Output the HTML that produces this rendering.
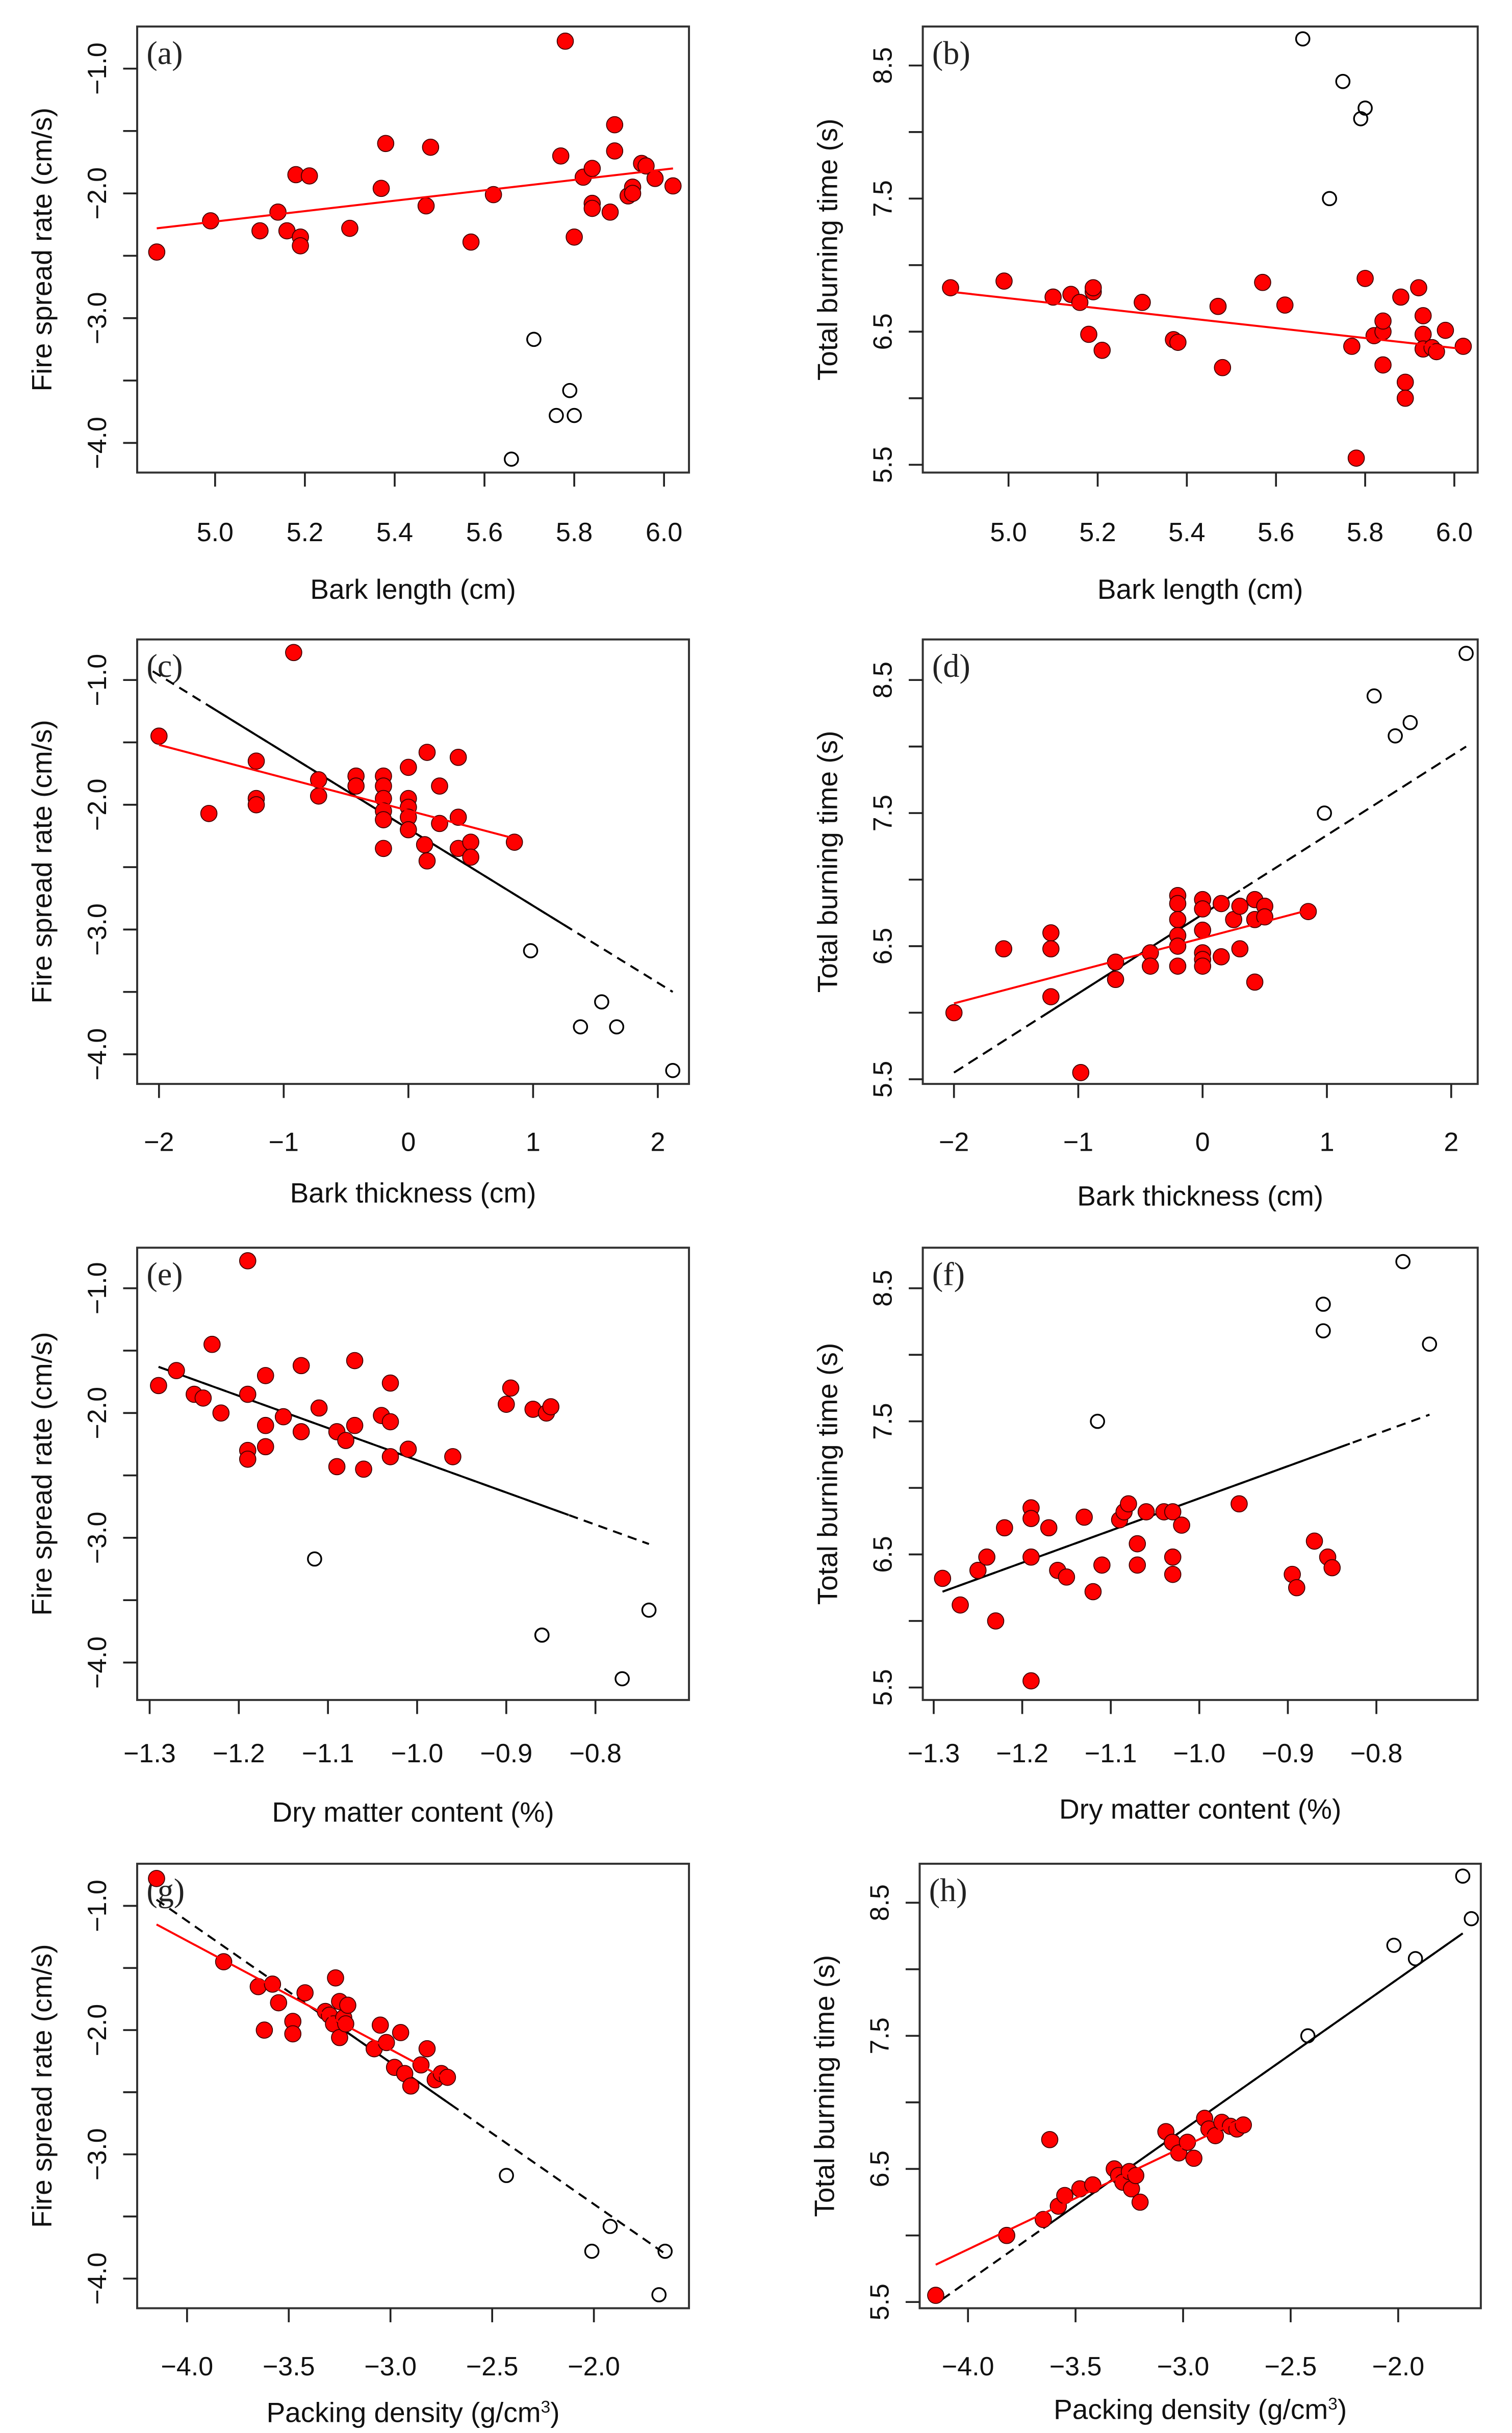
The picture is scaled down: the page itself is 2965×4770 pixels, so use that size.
<!DOCTYPE html>
<html><head><meta charset="utf-8"><style>
html,body{margin:0;padding:0;background:#fff;}
svg{display:block;}
</style></head><body>
<svg id="fig" xmlns="http://www.w3.org/2000/svg" width="2965" height="4770" viewBox="0 0 970 1560" preserveAspectRatio="none"></svg>
<script>
// ---- data: bark length ----
const aX=[4.87,4.99,5.10,5.14,5.16,5.18,5.19,5.19,5.21,5.30,5.37,5.38,5.47,5.48,5.57,5.62,5.77,5.78,5.80,5.82,5.84,5.84,5.84,5.88,5.89,5.89,5.92,5.93,5.93,5.95,5.96,5.98,6.02];
const aY=[-2.47,-2.22,-2.30,-2.15,-2.30,-1.85,-2.35,-2.42,-1.86,-2.28,-1.96,-1.60,-2.10,-1.63,-2.39,-2.01,-1.70,-0.78,-2.35,-1.87,-1.80,-2.08,-2.12,-2.15,-1.45,-1.66,-2.02,-1.95,-2.00,-1.76,-1.78,-1.88,-1.94];
const aOX=[5.71,5.79,5.76,5.80,5.66];
const aOY=[-3.17,-3.58,-3.78,-3.78,-4.13];
const bX=[4.87,4.99,5.10,5.14,5.16,5.18,5.19,5.19,5.21,5.30,5.37,5.38,5.47,5.48,5.57,5.62,5.77,5.78,5.80,5.82,5.84,5.84,5.84,5.88,5.89,5.89,5.92,5.93,5.93,5.93,5.95,5.96,5.98,6.02];
const bY=[6.83,6.88,6.76,6.78,6.72,6.48,6.80,6.83,6.36,6.72,6.44,6.42,6.69,6.23,6.87,6.70,6.39,5.55,6.90,6.47,6.50,6.58,6.25,6.76,6.12,6.00,6.83,6.62,6.48,6.37,6.38,6.35,6.51,6.39];
const bOX=[5.66,5.75,5.79,5.80,5.72];
const bOY=[8.70,8.38,8.10,8.18,7.50];
// ---- data: bark thickness ----
const cX=[-2.0,-1.6,-1.22,-1.22,-1.22,-0.92,-0.72,-0.72,-0.42,-0.42,-0.2,-0.2,-0.2,-0.2,-0.2,-0.2,0,0,0,0,0,0.13,0.15,0.15,0.25,0.25,0.4,0.4,0.4,0.5,0.5,0.85];
const cY=[-1.45,-2.07,-1.65,-1.95,-2.00,-0.78,-1.80,-1.93,-1.77,-1.85,-1.77,-1.85,-1.95,-2.05,-2.12,-2.35,-1.70,-1.95,-2.02,-2.10,-2.20,-2.32,-1.58,-2.45,-1.85,-2.15,-1.62,-2.10,-2.35,-2.30,-2.42,-2.30];
const cOX=[0.98,1.55,1.38,1.67,2.12];
const cOY=[-3.17,-3.58,-3.78,-3.78,-4.13];
const dX=[-2.0,-1.6,-1.22,-1.22,-1.22,-0.98,-0.7,-0.7,-0.42,-0.42,-0.2,-0.2,-0.2,-0.2,-0.2,-0.2,0,0,0,0,0,0,0.15,0.15,0.25,0.3,0.3,0.42,0.42,0.42,0.5,0.5,0.85];
const dY=[6.0,6.48,6.60,6.48,6.12,5.55,6.38,6.25,6.45,6.35,6.88,6.82,6.70,6.58,6.50,6.35,6.85,6.78,6.62,6.45,6.40,6.35,6.82,6.42,6.70,6.80,6.48,6.85,6.70,6.23,6.80,6.72,6.76];
const dOX=[0.98,1.38,1.55,1.67,2.12];
const dOY=[7.50,8.38,8.08,8.18,8.70];
// ---- data: dry matter content ----
const eX=[-1.29,-1.27,-1.25,-1.24,-1.23,-1.22,-1.19,-1.19,-1.19,-1.19,-1.17,-1.17,-1.17,-1.15,-1.13,-1.13,-1.11,-1.09,-1.09,-1.08,-1.07,-1.07,-1.06,-1.04,-1.03,-1.03,-1.03,-1.01,-0.96,-0.90,-0.895,-0.87,-0.855,-0.85];
const eY=[-1.78,-1.66,-1.85,-1.88,-1.45,-2.00,-0.78,-1.85,-2.30,-2.37,-1.70,-2.10,-2.27,-2.03,-1.62,-2.15,-1.96,-2.15,-2.43,-2.22,-1.58,-2.10,-2.45,-2.02,-2.35,-1.76,-2.07,-2.29,-2.35,-1.93,-1.80,-1.97,-2.00,-1.95];
const eOX=[-1.115,-0.86,-0.86,-0.77,-0.74];
const eOY=[-3.17,-3.78,-3.78,-4.13,-3.58];
const fX=[-1.29,-1.27,-1.25,-1.24,-1.23,-1.22,-1.19,-1.19,-1.19,-1.19,-1.17,-1.16,-1.15,-1.13,-1.12,-1.11,-1.09,-1.085,-1.08,-1.07,-1.07,-1.06,-1.04,-1.03,-1.03,-1.03,-1.02,-0.955,-0.895,-0.89,-0.87,-0.855,-0.85];
const fY=[6.32,6.12,6.38,6.48,6.00,6.70,6.48,6.85,6.77,5.55,6.70,6.38,6.33,6.78,6.22,6.42,6.76,6.82,6.88,6.42,6.58,6.82,6.82,6.82,6.48,6.35,6.72,6.88,6.35,6.25,6.60,6.48,6.40];
const fOX=[-1.115,-0.86,-0.86,-0.77,-0.74];
const fOY=[7.50,8.38,8.18,8.70,8.08];
// ---- data: packing density ----
const gX=[-4.15,-3.82,-3.65,-3.62,-3.58,-3.55,-3.48,-3.48,-3.42,-3.32,-3.30,-3.28,-3.27,-3.25,-3.25,-3.23,-3.22,-3.21,-3.08,-3.05,-3.02,-2.98,-2.95,-2.93,-2.90,-2.85,-2.82,-2.78,-2.75,-2.72];
const gY=[-0.78,-1.45,-1.65,-2.00,-1.63,-1.78,-1.93,-2.03,-1.70,-1.85,-1.88,-1.95,-1.58,-1.77,-2.06,-1.90,-1.95,-1.80,-2.15,-1.96,-2.10,-2.30,-2.02,-2.35,-2.45,-2.28,-2.15,-2.40,-2.35,-2.38];
const gOX=[-2.43,-1.92,-2.01,-1.65,-1.68];
const gOY=[-3.17,-3.58,-3.78,-3.78,-4.13];
const hX=[-4.15,-3.82,-3.65,-3.58,-3.55,-3.62,-3.48,-3.42,-3.32,-3.30,-3.28,-3.25,-3.24,-3.22,-3.20,-3.08,-3.05,-3.02,-2.98,-2.95,-2.90,-2.88,-2.85,-2.82,-2.78,-2.75,-2.72];
const hY=[5.55,6.0,6.12,6.22,6.30,6.72,6.35,6.38,6.50,6.45,6.40,6.48,6.35,6.45,6.25,6.78,6.70,6.62,6.70,6.58,6.88,6.80,6.75,6.85,6.82,6.80,6.83];
const hOX=[-2.42,-2.02,-1.92,-1.70,-1.66];
const hOY=[7.50,8.18,8.08,8.70,8.38];
// ---- fitted lines (x0,y0,x1,y1) ----
const aRed=[4.87,-2.28,6.02,-1.80];
const bRed=[4.87,6.80,6.02,6.37];
const cRed=[-2.0,-1.52,0.85,-2.27];
const cBlack=[-2.05,-0.93,2.12,-3.50];
const dRed=[-2.0,6.07,0.85,6.77];
const dBlack=[-2.0,5.55,2.12,8.0];
const eBlack=[-1.29,-1.63,-0.74,-3.05];
const fBlack=[-1.29,6.22,-0.74,7.55];
const gRed=[-4.15,-1.15,-2.72,-2.40];
const gBlack=[-4.15,-0.95,-1.65,-3.80];
const hRed=[-4.15,5.78,-2.72,6.88];
const hBlack=[-4.12,5.52,-1.70,8.27];
// ---- tick labels ----
const blTicks=["5.0","5.2","5.4","5.6","5.8","6.0"];
const btTicks=["-2","-1","0","1","2"];
const dmTicks=["-1.3","-1.2","-1.1","-1.0","-0.9","-0.8"];
const pdTicks=["-4.0","-3.5","-3.0","-2.5","-2.0"];
const fsrTicks=["-1.0","-2.0","-3.0","-4.0"];
const tbtTicks=["8.5","7.5","6.5","5.5"];

const NS="http://www.w3.org/2000/svg";
const svg=document.getElementById('fig');
function mk(tag,attrs,parent,text){const e=document.createElementNS(NS,tag);for(const k in attrs)e.setAttribute(k,attrs[k]);if(text!==undefined)e.textContent=text;(parent||svg).appendChild(e);return e;}
function fmt(s){return s.replace('-','\u2212');}

function panel(cfg){
  const g=mk('g',{});
  
  
  const [L,T,R,B]=cfg.box;
  const lo=cfg.labOff||44, to=cfg.titleOff||81;
  const sx=v=>cfg.xp0+(v-cfg.xv0)*(cfg.xp1-cfg.xp0)/(cfg.xv1-cfg.xv0);
  const sy=v=>cfg.yp0+(v-cfg.yv0)*(cfg.yp1-cfg.yp0)/(cfg.yv1-cfg.yv0);
  const box=mk('rect',{x:L,y:T,width:R-L,height:B-T,fill:'none',stroke:'#333',"stroke-width":1.3},g);
  
  
  cfg.xTicks.forEach(t=>{
    const v=parseFloat(t);const x=sx(v);
    const tk=mk('line',{x1:x,y1:B,x2:x,y2:B+9,stroke:'#222',"stroke-width":1.2},g);
    
    
    const lb=mk('text',{x:x,y:B+lo,"text-anchor":"middle","font-size":17,"font-family":"Liberation Sans, sans-serif",fill:'#111'},g,fmt(t));
    
    
  });
  const ys=cfg.yTicks.map(parseFloat);
  const ymin=Math.min(...ys),ymax=Math.max(...ys);
  for(let v=ymin;v<=ymax+1e-9;v+=0.5){
    const y=sy(v);
    const tk=mk('line',{x1:L-9,y1:y,x2:L,y2:y,stroke:'#222',"stroke-width":1.2},g);
    
    
  }
  cfg.yTicks.forEach(t=>{
    const y=sy(parseFloat(t));const x=L-20;
    const lb=mk('text',{x:x,y:y,"text-anchor":"middle","font-size":17,"font-family":"Liberation Sans, sans-serif",fill:'#111',transform:`rotate(-90 ${x} ${y})`},g,fmt(t));
    
    
  });
  const xt=mk('text',{x:(L+R)/2,y:B+to,"text-anchor":"middle","font-size":18,"font-family":"Liberation Sans, sans-serif",fill:'#111'},g);
  xt.innerHTML=cfg.xTitle;
  
  
  const yx=L-55,yy=(T+B)/2;
  const yt=mk('text',{x:yx,y:yy,"text-anchor":"middle","font-size":18,"font-family":"Liberation Sans, sans-serif",fill:'#111',transform:`rotate(-90 ${yx} ${yy})`},g,cfg.yTitle);
  
  
  const pl=mk('text',{x:L+6,y:T+24,"font-size":21,"font-family":"Liberation Serif, serif",fill:'#222'},g,'('+cfg.id+')');
  
  
  function line(c,color,dash,w){
    const ln=mk('line',{x1:sx(c[0]),y1:sy(c[1]),x2:sx(c[2]),y2:sy(c[3]),stroke:color,"stroke-width":w||1.3},g);
    if(dash)ln.setAttribute('stroke-dasharray',dash);
    return ln;
  }
  if(cfg.black){
    const bl=line(cfg.black,'#000',cfg.blackDash);
    
    
    if(cfg.solidFrom!==undefined){
      const c=cfg.black;const f=t=>c[1]+(t-c[0])*(c[3]-c[1])/(c[2]-c[0]);
      const s=line([cfg.solidFrom,f(cfg.solidFrom),cfg.solidTo,f(cfg.solidTo)],'#000',null);
      
      
    }
  }
  cfg.oX.forEach((v,i)=>{
    const c=mk('circle',{cx:sx(v),cy:sy(cfg.oY[i]),r:4.3,fill:'none',stroke:'#000',"stroke-width":1.1},g);
    
    
  });
  cfg.fX.forEach((v,i)=>{
    const c=mk('circle',{cx:sx(v),cy:sy(cfg.fY[i]),r:5.2,fill:'#f00',stroke:'#400',"stroke-width":0.6},g);
    
    
  });
  if(cfg.red){
    const rl=line(cfg.red,'#f00',null,1.3);
    
    
  }
}
const FSR="Fire spread rate (cm/s)",TBT="Total burning time (s)";
const Lb=[88,442],Rb=[592,948];
const rows=[[17,303],[410,695],[800,1090],[1195,1480]];
const PD='Packing density (g/cm<tspan dy="-6" font-size="11">3</tspan><tspan dy="6">)</tspan>';
panel({id:'a',box:[Lb[0],rows[0][0],Lb[1],rows[0][1]],xv0:5,xp0:138,xv1:6,xp1:426,yv0:-1,yp0:44,yv1:-4,yp1:284,xTicks:blTicks,yTicks:fsrTicks,xTitle:'Bark length (cm)',yTitle:FSR,fX:aX,fY:aY,oX:aOX,oY:aOY,red:aRed});
panel({id:'b',box:[Rb[0],rows[0][0],Rb[1],rows[0][1]],xv0:5,xp0:647,xv1:6,xp1:933,yv0:8.5,yp0:42,yv1:5.5,yp1:298,xTicks:blTicks,yTicks:tbtTicks,xTitle:'Bark length (cm)',yTitle:TBT,fX:bX,fY:bY,oX:bOX,oY:bOY,red:bRed});
panel({id:'c',box:[Lb[0],rows[1][0],Lb[1],rows[1][1]],xv0:-2,xp0:102,xv1:2,xp1:422,yv0:-1,yp0:436,yv1:-4,yp1:676,xTicks:btTicks,yTicks:fsrTicks,xTitle:'Bark thickness (cm)',yTitle:FSR,fX:cX,fY:cY,oX:cOX,oY:cOY,red:cRed,black:cBlack,blackDash:'6 4',solidFrom:-1.6,solidTo:1.3,labOff:43,titleOff:76});
panel({id:'d',box:[Rb[0],rows[1][0],Rb[1],rows[1][1]],xv0:-2,xp0:612,xv1:2,xp1:931,yv0:8.5,yp0:436,yv1:5.5,yp1:692,xTicks:btTicks,yTicks:tbtTicks,xTitle:'Bark thickness (cm)',yTitle:TBT,fX:dX,fY:dY,oX:dOX,oY:dOY,red:dRed,black:dBlack,blackDash:'7 4',solidFrom:-1.3,solidTo:0.3,labOff:43,titleOff:78});
panel({id:'e',box:[Lb[0],rows[2][0],Lb[1],rows[2][1]],xv0:-1.3,xp0:96,xv1:-0.8,xp1:382,yv0:-1,yp0:826,yv1:-4,yp1:1066,xTicks:dmTicks,yTicks:fsrTicks,xTitle:'Dry matter content (%)',yTitle:FSR,fX:eX,fY:eY,oX:eOX,oY:eOY,black:eBlack,blackDash:'6 4',solidFrom:-1.29,solidTo:-0.83,labOff:40,titleOff:78});
panel({id:'f',box:[Rb[0],rows[2][0],Rb[1],rows[2][1]],xv0:-1.3,xp0:599,xv1:-0.8,xp1:883,yv0:8.5,yp0:826,yv1:5.5,yp1:1082,xTicks:dmTicks,yTicks:tbtTicks,xTitle:'Dry matter content (%)',yTitle:TBT,fX:fX,fY:fY,oX:fOX,oY:fOY,black:fBlack,blackDash:'6 4',solidFrom:-1.29,solidTo:-0.83,labOff:40,titleOff:76});
panel({id:'g',box:[Lb[0],rows[3][0],Lb[1],rows[3][1]],xv0:-4,xp0:120,xv1:-2,xp1:381,yv0:-1,yp0:1222,yv1:-4,yp1:1461,xTicks:pdTicks,yTicks:fsrTicks,xTitle:PD,yTitle:FSR,fX:gX,fY:gY,oX:gOX,oY:gOY,red:gRed,black:gBlack,blackDash:'6 4',solidFrom:-3.4,solidTo:-2.7,labOff:43,titleOff:73});
panel({id:'h',box:[590,rows[3][0],950,rows[3][1]],xv0:-4,xp0:621,xv1:-2,xp1:897,yv0:8.5,yp0:1220,yv1:5.5,yp1:1476,xTicks:pdTicks,yTicks:tbtTicks,xTitle:PD,yTitle:TBT,fX:hX,fY:hY,oX:hOX,oY:hOY,red:hRed,black:hBlack,blackDash:'6 4',solidFrom:-3.65,solidTo:-1.70,labOff:43,titleOff:71});
</script>
</body></html>
